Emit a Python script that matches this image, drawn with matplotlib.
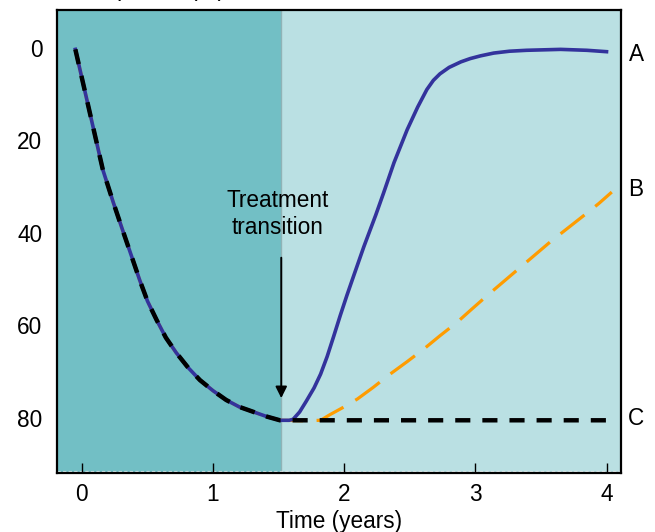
import matplotlib
matplotlib.use('Agg')
import matplotlib.pyplot as plt

plt.rcParams['font.family'] = ['Liberation Sans', 'DejaVu Sans']

# shared decline phase (years, % depletion)
decline_t = [-0.05, 0.02, 0.09, 0.16, 0.24, 0.31, 0.38, 0.44, 0.50, 0.57, 0.64, 0.72,
             0.81, 0.90, 1.00, 1.10, 1.20, 1.31, 1.41, 1.51]
decline_y = [0.3, 9.0, 17.7, 26.4, 33.5, 39.4, 45.2, 50.2, 54.8, 58.9, 62.7, 66.0,
             69.2, 71.9, 74.2, 76.2, 77.7, 78.8, 79.8, 80.6]

# A: fast recovery
a_t = [1.58, 1.61, 1.66, 1.71, 1.77, 1.82, 1.87, 1.92, 1.97, 2.02, 2.07, 2.15, 2.24,
       2.30, 2.38, 2.48, 2.56, 2.63, 2.68, 2.73, 2.80, 2.89, 2.96, 3.04, 3.14, 3.26,
       3.39, 3.65, 3.85, 4.00]
a_y = [80.6, 80.4, 78.8, 76.5, 73.6, 70.6, 66.8, 62.4, 57.9, 53.6, 49.5, 43.0, 36.2,
       31.4, 24.8, 17.7, 12.8, 9.0, 7.0, 5.6, 4.2, 3.0, 2.3, 1.7, 1.1, 0.7,
       0.5, 0.3, 0.5, 0.8]

# B: slow recovery
b_t = [1.70, 1.82, 1.89, 1.98, 2.10, 2.22, 2.35, 2.48, 2.61, 2.73, 2.86, 2.97, 3.09,
       3.21, 3.33, 3.45, 3.57, 3.70, 3.83, 3.94, 4.04]
b_y = [80.7, 80.6, 79.4, 78.0, 76.0, 73.5, 70.6, 67.9, 65.1, 62.3, 59.4, 56.6, 53.6,
       50.7, 47.8, 44.9, 42.0, 39.1, 36.2, 33.7, 31.2]

# C: no recovery
c_t = [4.02]
c_y = [80.6]

transition = 1.52
end_labels = ['A', 'B', 'C']
end_y = [1.4, 30.7, 80.2]
yticks = [0, 20, 40, 60, 80]
xticks = [0, 1, 2, 3, 4]

fs = 16.3

fig = plt.figure(figsize=(6.55, 5.32), dpi=100)
ax = fig.add_axes([0.087, 0.111, 0.861, 0.870])

xmin, xmax = -0.19, 4.11
ymin, ymax = 92, -8.2
ax.set_xlim(xmin, xmax)
ax.set_ylim(ymin, ymax)

ax.axvspan(xmin, transition, color='#72bfc5', lw=0, zorder=0)
ax.axvspan(transition, xmax, color='#bae0e3', lw=0, zorder=0)
ax.axvline(transition, color='#8fb3b6', lw=1, zorder=1)
ax.axhline(91.6, color='white', lw=0.8, ls=(0, (3, 2)), alpha=0.7, zorder=1)

ax.plot(decline_t + b_t, decline_y + b_y, color='#ff9c00', lw=2.3,
        dashes=(9.5, 4.3), zorder=3)
ax.plot(decline_t + a_t, decline_y + a_y, color='#33339c', lw=2.6, zorder=4)
ax.plot(decline_t + c_t, decline_y + c_y, color='black', lw=3.2,
        dashes=(3.4, 2.7), zorder=5)

ax.annotate('', xy=(transition, 76.4), xytext=(transition, 44.8),
            arrowprops=dict(arrowstyle='-|>', color='black', lw=1.4,
                            mutation_scale=17), zorder=6)
ax.text(1.49, 35.9, 'Treatment\ntransition', ha='center', va='center',
        fontsize=fs, linespacing=1.2)

for lab, yy in zip(end_labels, end_y):
    ax.text(1.027, yy, lab, transform=ax.get_yaxis_transform(),
            ha='center', va='center', fontsize=fs)

ax.set_xticks(xticks)
ax.set_yticks(yticks)
ax.tick_params(axis='x', direction='in', length=7, width=1, labelsize=fs, pad=7)
ax.tick_params(axis='y', length=0, labelsize=fs, pad=10.5)
for s in ax.spines.values():
    s.set_linewidth(1.6)
    s.set_zorder(7)

ax.set_xlabel('Time (years)', fontsize=fs, labelpad=3)
fig.text(225 / 655, 1.008, 'B-cell depletion (%)', ha='right', va='baseline',
         fontsize=fs)

fig.savefig('out.png', dpi=100)
